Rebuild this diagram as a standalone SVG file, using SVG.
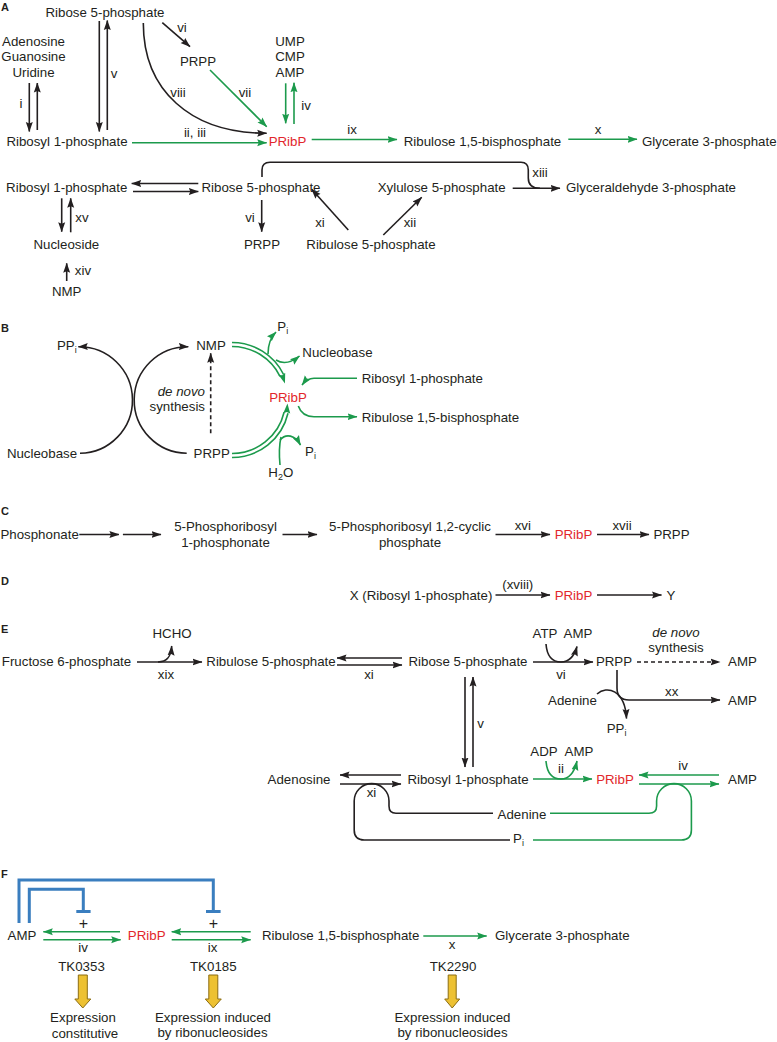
<svg xmlns="http://www.w3.org/2000/svg" width="777" height="1042" viewBox="0 0 777 1042">
<style>
text{font-family:"Liberation Sans",Arial,sans-serif;font-size:13.3px;fill:#231f20}
.m{text-anchor:middle}
.e{text-anchor:end}
.r{fill:#e2262b}
.it{font-style:italic}
.pl{font-weight:bold;font-size:11px}
.pm{font-size:16px}
.k{stroke:#231f20;stroke-width:1.6;fill:none}
.g{stroke:#1c9a4c;stroke-width:1.6;fill:none}
.b{stroke:#3a7ebf;stroke-width:3;fill:none}
.ka{marker-end:url(#ak)}
.ga{marker-end:url(#ag)}
.d{stroke-dasharray:4 3}
.y{fill:#edc132;stroke:#8c6d12;stroke-width:1}
</style>
<defs>
<marker id="ak" markerUnits="userSpaceOnUse" markerWidth="10" markerHeight="8" viewBox="0 0 10 8" refX="9.5" refY="4" orient="auto"><path d="M0,0.5 L10,4 L0,7.5 L1.5,4Z" fill="#231f20"/></marker>
<marker id="ag" markerUnits="userSpaceOnUse" markerWidth="10" markerHeight="8" viewBox="0 0 10 8" refX="9.5" refY="4" orient="auto"><path d="M0,0.5 L10,4 L0,7.5 L1.5,4Z" fill="#1c9a4c"/></marker>
</defs>

<!-- panel labels -->
<g id="panel-labels">
<text class="pl" x="1" y="11">A</text>
<text class="pl" x="1" y="332">B</text>
<text class="pl" x="1" y="515">C</text>
<text class="pl" x="1" y="585">D</text>
<text class="pl" x="1" y="633">E</text>
<text class="pl" x="1" y="878">F</text>
</g>

<!-- ===== Panel A nodes ===== -->
<g id="A-r5p-top"><text class="m" x="105" y="17">Ribose 5-phosphate</text></g>
<g id="A-nucleosides"><text class="m" x="33.5" y="45.5">Adenosine</text><text class="m" x="33.5" y="61">Guanosine</text><text class="m" x="33.5" y="76.5">Uridine</text></g>
<g id="A-r1p"><text class="m" x="67" y="145.5">Ribosyl 1-phosphate</text></g>
<g id="A-prpp"><text class="m" x="198" y="66">PRPP</text></g>
<g id="A-nmps"><text class="m" x="290" y="45.5">UMP</text><text class="m" x="290" y="61">CMP</text><text class="m" x="290" y="76.5">AMP</text></g>
<g id="A-pribp"><text class="m r" x="287.5" y="145.5">PRibP</text></g>
<g id="A-rubp"><text class="m" x="482.5" y="145.5">Ribulose 1,5-bisphosphate</text></g>
<g id="A-g3p"><text x="642" y="145.5">Glycerate 3-phosphate</text></g>
<g id="A-r1p-2"><text class="m" x="66.7" y="192">Ribosyl 1-phosphate</text></g>
<g id="A-r5p-2"><text class="m" x="261" y="192">Ribose 5-phosphate</text></g>
<g id="A-xu5p"><text class="m" x="441.7" y="192">Xylulose 5-phosphate</text></g>
<g id="A-gap"><text class="m" x="651" y="192">Glyceraldehyde 3-phosphate</text></g>
<g id="A-prpp-2"><text class="m" x="262" y="249">PRPP</text></g>
<g id="A-ru5p"><text class="m" x="371" y="249">Ribulose 5-phosphate</text></g>
<g id="A-nucleoside"><text class="m" x="66.3" y="249">Nucleoside</text></g>
<g id="A-nmp"><text class="m" x="66.7" y="295.7">NMP</text></g>

<!-- ===== Panel B nodes ===== -->
<g id="B-ppi"><text x="57" y="350">PP<tspan font-size="9" dy="3">i</tspan></text></g>
<g id="B-nmp"><text class="m" x="211" y="350">NMP</text></g>
<g id="B-nucleobase-l"><text class="m" x="42" y="458">Nucleobase</text></g>
<g id="B-prpp"><text class="m" x="211.7" y="458">PRPP</text></g>
<g id="B-denovo"><text class="e it" x="205" y="396">de novo</text><text class="e" x="205" y="410.7">synthesis</text></g>
<g id="B-pribp"><text class="m r" x="288" y="401.7">PRibP</text></g>
<g id="B-pi-top"><text x="277.3" y="330.7">P<tspan font-size="9" dy="3">i</tspan></text></g>
<g id="B-nucleobase-r"><text x="302.3" y="356.7">Nucleobase</text></g>
<g id="B-r1p"><text x="361.7" y="382.7">Ribosyl 1-phosphate</text></g>
<g id="B-rubp"><text x="361.7" y="421.7">Ribulose 1,5-bisphosphate</text></g>
<g id="B-pi-bot"><text x="305" y="456">P<tspan font-size="9" dy="3">i</tspan></text></g>
<g id="B-h2o"><text x="268.3" y="476.7">H<tspan font-size="9" dy="3">2</tspan><tspan dy="-3">O</tspan></text></g>

<!-- ===== Panel C nodes ===== -->
<g id="C-phosphonate"><text class="m" x="39.6" y="539">Phosphonate</text></g>
<g id="C-prpn"><text class="m" x="225.5" y="530.5">5-Phosphoribosyl</text><text class="m" x="225.5" y="547">1-phosphonate</text></g>
<g id="C-prcp"><text class="m" x="410" y="530.5">5-Phosphoribosyl 1,2-cyclic</text><text class="m" x="410" y="547">phosphate</text></g>
<g id="C-pribp"><text class="m r" x="573.5" y="539">PRibP</text></g>
<g id="C-prpp"><text class="m" x="671.5" y="539">PRPP</text></g>

<!-- ===== Panel D nodes ===== -->
<g id="D-x"><text class="m" x="421" y="600">X (Ribosyl 1-phosphate)</text></g>
<g id="D-pribp"><text class="m r" x="573.5" y="600">PRibP</text></g>
<g id="D-y"><text class="m" x="671" y="600">Y</text></g>

<!-- ===== Panel E nodes ===== -->
<g id="E-f6p"><text class="m" x="66.5" y="666">Fructose 6-phosphate</text></g>
<g id="E-hcho"><text class="m" x="172" y="638">HCHO</text></g>
<g id="E-ru5p"><text class="m" x="271" y="666">Ribulose 5-phosphate</text></g>
<g id="E-r5p"><text class="m" x="468" y="666">Ribose 5-phosphate</text></g>
<g id="E-atp"><text class="m" x="545" y="638">ATP</text></g>
<g id="E-amp-vi"><text class="m" x="578" y="638">AMP</text></g>
<g id="E-prpp"><text class="m" x="614" y="666">PRPP</text></g>
<g id="E-denovo"><text class="m it" x="676" y="637">de novo</text><text class="m" x="676" y="651.7">synthesis</text></g>
<g id="E-amp-1"><text class="m" x="742.5" y="666">AMP</text></g>
<g id="E-amp-2"><text class="m" x="742.5" y="705">AMP</text></g>
<g id="E-adenine-1"><text class="m" x="572.5" y="705">Adenine</text></g>
<g id="E-ppi"><text x="606.7" y="733">PP<tspan font-size="9" dy="3">i</tspan></text></g>
<g id="E-adp"><text class="m" x="544" y="756">ADP</text></g>
<g id="E-amp-ii"><text class="m" x="579" y="756">AMP</text></g>
<g id="E-adenosine"><text class="m" x="299" y="784">Adenosine</text></g>
<g id="E-r1p"><text class="m" x="468" y="784">Ribosyl 1-phosphate</text></g>
<g id="E-pribp"><text class="m r" x="615" y="784">PRibP</text></g>
<g id="E-amp-3"><text class="m" x="742.5" y="784">AMP</text></g>
<g id="E-adenine-2"><text class="m" x="522" y="818.5">Adenine</text></g>
<g id="E-pi"><text x="513" y="843.3">P<tspan font-size="9" dy="3">i</tspan></text></g>

<!-- ===== Panel F nodes ===== -->
<g id="F-amp"><text class="m" x="22" y="940">AMP</text></g>
<g id="F-pribp"><text class="m r" x="146.7" y="940">PRibP</text></g>
<g id="F-rubp"><text x="262" y="940">Ribulose 1,5-bisphosphate</text></g>
<g id="F-g3p"><text x="495" y="940">Glycerate 3-phosphate</text></g>
<g id="F-tk0353"><text class="m" x="81.5" y="970.7">TK0353</text><text class="m" x="83" y="1021.7">Expression</text><text class="m" x="85" y="1038">constitutive</text></g>
<g id="F-tk0185"><text class="m" x="213.3" y="970.7">TK0185</text><text class="m" x="213" y="1021.7">Expression induced</text><text class="m" x="212.5" y="1036.7">by ribonucleosides</text></g>
<g id="F-tk2290"><text class="m" x="453" y="970.7">TK2290</text><text class="m" x="452.5" y="1021.7">Expression induced</text><text class="m" x="452.5" y="1036.7">by ribonucleosides</text></g>

<!-- ===== connectors ===== -->
<g id="connectors">
<!-- Panel A -->
<path class="k ka" d="M29.3,83 V131.5"/>
<path class="k ka" d="M37.3,130 V83"/>
<path class="k ka" d="M99.3,21 V131.5"/>
<path class="k ka" d="M107.3,130 V20.5"/>
<path class="k ka" d="M143.3,23 C143.3,90 190,133.3 266.7,133.3"/>
<path class="k ka" d="M162.3,22.7 L190,46.7"/>
<path class="g ga" d="M210,70 L266.7,126.7"/>
<path class="g ga" d="M285.7,83.3 V123.3"/>
<path class="g ga" d="M294,124 V82.7"/>
<path class="g ga" d="M132,142.7 H266.7"/>
<path class="g ga" d="M311.7,139.5 H397"/>
<path class="g ga" d="M568.3,139.3 H637"/>
<path class="k ka" d="M198.3,183.5 H131.7"/>
<path class="k ka" d="M133,191.5 H198.3"/>
<path class="k" d="M262,177 V170 Q262,162.3 270,162.3 H521 Q528.3,162.3 528.3,170 V178 Q528.3,188.3 540,188.3"/>
<path class="k ka" d="M512.7,188.3 H560"/>
<path class="k ka" d="M261.7,200 V231.7"/>
<path class="k ka" d="M348.3,230 L311.7,189.3"/>
<path class="k ka" d="M383.3,235 L421.7,197.3"/>
<path class="k ka" d="M61.7,198.3 V231.7"/>
<path class="k ka" d="M70.7,232.3 V198.3"/>
<path class="k ka" d="M66.7,281 V263.3"/>
<!-- Panel B -->
<path class="k ka" d="M80,453.3 A53.3,53.3 0 0 0 78.3,346.7"/>
<path class="k ka" d="M186.7,453.3 A53.3,53.3 0 0 1 188.3,346.7"/>
<path class="k ka d" d="M210.7,433.3 V353.3"/>
<path class="g" d="M232,342.5 A57.5,57.5 0 0 1 283.6,374.5"/>
<path class="g" d="M232,346.5 A53.5,53.5 0 0 1 280,376.3"/>
<path class="ga" stroke="none" fill="none" d="M232,344.5 A55.5,55.5 0 0 1 284.8,382.9"/>
<path class="g" d="M232,457.5 A57.5,57.5 0 0 0 288,413.2"/>
<path class="g" d="M232,453.5 A53.5,53.5 0 0 0 284.1,412.3"/>
<path class="ga" stroke="none" fill="none" d="M232,455.5 A55.5,55.5 0 0 0 287.4,403.9"/>
<path class="g ga" d="M268,354 C268,344 270,338 276,332"/>
<path class="g ga" d="M276,360 C284,365 292,362 299.5,356"/>
<path class="g ga" d="M357,378.3 H314 Q307,378.3 302,385"/>
<path class="g ga" d="M298.3,406 Q302,416.7 314,416.7 H357"/>
<path class="g" d="M280,465 C279,455 279,446 281,437"/>
<path class="g ga" d="M280,440 C286,433 295,435 300.5,445"/>
<!-- Panel C -->
<path class="k ka" d="M79.3,534.5 H118.9"/>
<path class="k ka" d="M122.9,534.5 H161"/>
<path class="k ka" d="M282.5,534.5 H317"/>
<path class="k ka" d="M495.5,534.5 H550"/>
<path class="k ka" d="M597,534.5 H649"/>
<!-- Panel D -->
<path class="k ka" d="M495.5,595 H550"/>
<path class="k ka" d="M597,595 H661.5"/>
<!-- Panel E -->
<path class="k ka" d="M137,662 H202"/>
<path class="k ka" d="M158,662 C167,662 171,657 171.7,646"/>
<path class="k ka" d="M402,658 H337"/>
<path class="k ka" d="M337,665 H402"/>
<path class="k ka" d="M533,662 H593"/>
<path class="k ka" d="M546,644 C547,657 553,662 561,662 C569,662 574,657 577,646.5"/>
<path class="k ka d" d="M637,662 H720"/>
<path class="k ka" d="M617,670 V688 Q617,700 629,700 H720"/>
<path class="k ka" d="M597,694 C607,685 625,690 626.5,718.5"/>
<path class="k ka" d="M465,677 V767"/>
<path class="k ka" d="M473,767 V677"/>
<path class="g ga" d="M533,779 H592"/>
<path class="g ga" d="M546,761 C547,774 553,779 561,779 C569,779 574,774 577,761"/>
<path class="g ga" d="M719,775 H639"/>
<path class="g ga" d="M639,784 H719"/>
<path class="k ka" d="M401,775 H340"/>
<path class="k ka" d="M340,784 H401"/>
<path class="k" d="M493,813.3 H396 Q389,813.3 389,806 V801 A17.4,17.4 0 0 0 354.2,801 V830 Q354.2,840 364.2,840 H510"/>
<path class="g" d="M550,813.3 H649 Q656.6,813.3 656.6,806 V801 A17.4,17.4 0 0 1 691.4,801 V830 Q691.4,840 681.4,840 H533"/>
<!-- Panel F -->
<path class="b" d="M19,923 V880 H213.3 V911"/>
<path class="b" d="M206,911.5 H220.6"/>
<path class="b" d="M29.3,923 V889.3 H83.3 V911"/>
<path class="b" d="M76.3,911.5 H90.6"/>
<path class="g ga" d="M120,931.7 H43.3"/>
<path class="g ga" d="M43.3,939.7 H120.7"/>
<path class="g ga" d="M250.7,931.7 H171.7"/>
<path class="g ga" d="M171.7,939.7 H250.7"/>
<path class="g ga" d="M423.3,936 H486.7"/>
<path class="y" d="M78.3,975 H87.3 V999 H90.8 L82.8,1008 L74.8,999 H78.3 Z"/>
<path class="y" d="M208.8,975 H217.8 V999 H221.3 L213.3,1008 L205.3,999 H208.8 Z"/>
<path class="y" d="M448.2,975 H456.2 V999 H459.7 L452.2,1008 L444.7,999 H448.2 Z"/>
</g>

<!-- reaction labels -->
<g id="labels">
<text class="m" x="21" y="108">i</text>
<text class="m" x="114" y="78">v</text>
<text class="m" x="178" y="96.5">viii</text>
<text class="m" x="182" y="31.7">vi</text>
<text class="m" x="245" y="96.7">vii</text>
<text class="m" x="306" y="110">iv</text>
<text class="m" x="195" y="136.5">ii, iii</text>
<text class="m" x="352" y="134">ix</text>
<text class="m" x="598" y="134">x</text>
<text class="m" x="540" y="177">xiii</text>
<text class="m" x="250" y="221.7">vi</text>
<text class="m" x="320" y="226.5">xi</text>
<text class="m" x="410" y="226.5">xii</text>
<text class="m" x="82" y="221.5">xv</text>
<text class="m" x="83" y="275">xiv</text>
<text class="m" x="522.8" y="530">xvi</text>
<text class="m" x="622" y="530">xvii</text>
<text class="m" x="517.8" y="588.5">(xviii)</text>
<text class="m" x="166" y="679">xix</text>
<text class="m" x="369" y="679">xi</text>
<text class="m" x="561" y="679">vi</text>
<text class="m" x="671.7" y="695.7">xx</text>
<text class="m" x="480.5" y="728">v</text>
<text class="m" x="561" y="772.7">ii</text>
<text class="m" x="683" y="770">iv</text>
<text class="m" x="371.5" y="797">xi</text>
<text class="m pm" x="83.3" y="928.5">+</text>
<text class="m pm" x="213.3" y="928.5">+</text>
<text class="m" x="83" y="952">iv</text>
<text class="m" x="212.5" y="952">ix</text>
<text class="m" x="452" y="949">x</text>
</g>
</svg>
